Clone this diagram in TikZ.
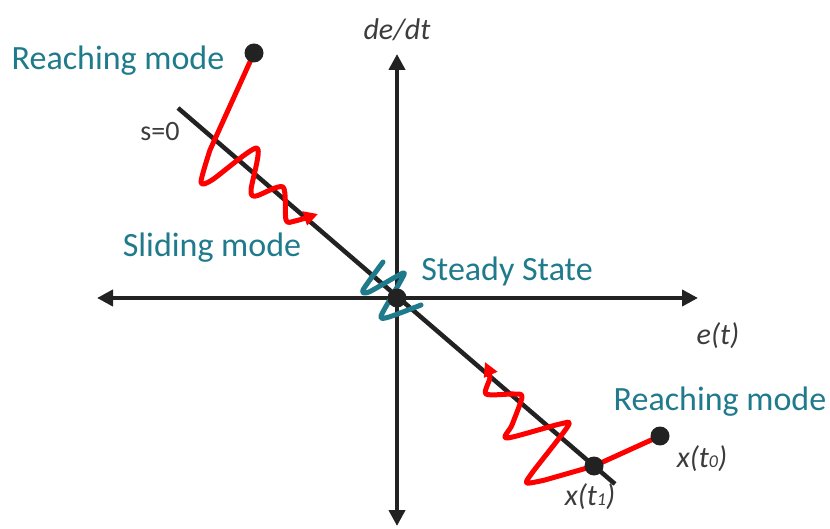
\documentclass[tikz,border=0pt]{standalone}
\usepackage{fontspec}
\setmainfont{Carlito}
\usetikzlibrary{arrows.meta,backgrounds}
\definecolor{modeteal}{RGB}{31,123,140}
\definecolor{axisblack}{RGB}{34,34,34}
\definecolor{labelgray}{RGB}{60,60,60}
\begin{document}
\begin{tikzpicture}[x=1pt, y=-1pt,
        axis/.style={draw=axisblack, line width=4.5pt, {Triangle[length=16pt,width=16pt]}-{Triangle[length=16pt,width=16pt]}},
        surface/.style={draw=axisblack, line width=4.5pt},
        traj/.style={draw=red, line width=5pt, line join=round, -{Triangle[length=14pt,width=14pt]}},
        chatter/.style={draw=modeteal, line width=5pt, line cap=round, line join=round},
        dot/.style={circle, fill=axisblack, minimum size=19pt, inner sep=0pt},
        mode/.style={text=modeteal, font=\fontsize{34}{40}\selectfont, inner sep=0pt},
        var/.style={text=labelgray, font=\fontsize{30}{36}\selectfont\itshape, inner sep=0pt}
      ]
      \useasboundingbox (0,0) rectangle (830,529);

      % Axis ends and sliding surface ends
      \coordinate (eLeft) at (97,298);
      \coordinate (eRight) at (698,298);
      \coordinate (dTop) at (397,54);
      \coordinate (dBot) at (397,526);
      \coordinate (sTop) at (178,108);
      \coordinate (sBot) at (615,484);

      % States
      \node[dot] (origin) at (397,298) {};
      \node[dot] (start) at (254,53) {};
      \node[dot] (xzero) at (660,436) {};
      \node[dot] (xone) at (594,466) {};

      % Labels
      \node[mode] (reachA) at (118,61) {Reaching mode};
      \node[mode] (slide) at (212,248) {Sliding mode};
      \node[mode] (steady) at (507,271) {Steady State};
      \node[mode] (reachB) at (720,402) {Reaching mode};
      \node[var, font=\fontsize{28}{34}\selectfont, text=labelgray] (surf) at (160,132) {s=0};
      \node[var] (dedt) at (397,30) {de/dt};
      \node[var] (et) at (718,336) {e(t)};
      \node[var] (tzero) at (702,459) {x(t{\fontsize{18}{20}\selectfont 0})};
      \node[var] (tone) at (590,497) {x(t{\fontsize{18}{20}\selectfont 1})};

      \begin{scope}[on background layer]
        % Axes and s=0
        \draw[axis] (eLeft) -- (eRight);
        \draw[axis] (dBot) -- (dTop);
        \draw[surface] (sTop) -- (sBot);

        % Reaching and sliding trajectories
        \draw[traj] (start.center) -- (210,150)
          plot[smooth, tension=0.45] coordinates {(210,150) (201,182) (212,180) (257,148) (251,190) (256,196) (283,187) (286,220) (295,221) (318,214)};
        \draw[traj] (xzero.center) -- (xone.center) -- (545,480)
          plot[smooth, tension=0.45] coordinates {(545,480) (527,483) (532,473) (568,426) (560,424) (507,438) (512,425) (522,397) (514,394) (486,394) (490,377) (485,362)};

        % Chattering at steady state
        \draw[chatter] plot[smooth, tension=0.4] coordinates {(383,262) (363,290) (369,292) (403,273) (400,282) (381,316) (389,317) (421,305)};
      \end{scope}
    \end{tikzpicture}
\end{document}
